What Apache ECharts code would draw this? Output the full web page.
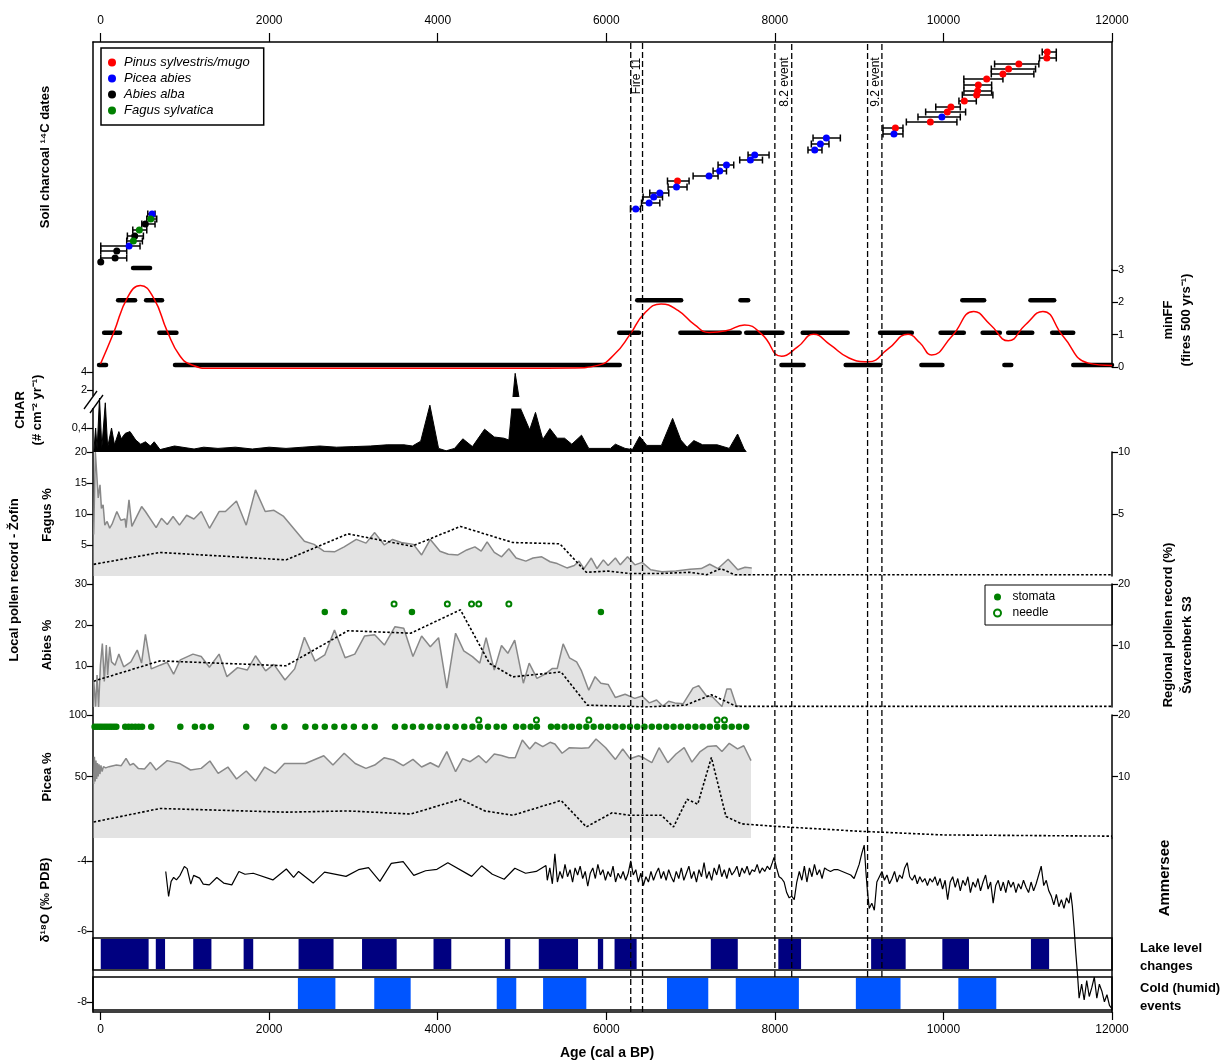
<!DOCTYPE html>
<html><head><meta charset="utf-8">
<script src="https://cdn.jsdelivr.net/npm/echarts@6/dist/echarts.min.js"></script>
<style>html,body{margin:0;padding:0;background:#fff}#chart{width:1222px;height:1063px}</style>
</head><body><div id="chart"></div>
<script>
// ================= DATA =================
const ageTicks = [0, 2000, 4000, 6000, 8000, 10000, 12000];
const taxa = ['Pinus sylvestris/mugo', 'Picea abies', 'Abies alba', 'Fagus sylvatica'];
// soil charcoal 14C dates: [age, errLo, errHi, rank, taxonIndex]
const charcoalDates = [
 [2,null,null,8,2],[172,2,310,12,2],[192,2,310,19,2],[338,2,468,24,1],[389,310,496,29,3],
 [405,318,508,34,2],[460,382,548,40,3],[531,489,646,46,2],[595,548,666,51,3],[611,560,646,56,1],
 [6350,6287,6406,61,1],[6508,6418,6635,67,1],[6563,6437,6667,73,1],[6635,6516,6741,77,1],
 [6833,6733,6958,83,1],[6845,6726,6982,89,0],[7219,7030,7326,94,1],[7346,7267,7426,99,1],
 [7426,7326,7512,105,1],[7710,7583,7853,110,1],[7761,7682,7931,115,1],[8473,8393,8559,120,1],
 [8540,8433,8642,126,1],[8611,8453,8777,132,1],
 [9413,9283,9520,136,1],[9430,9283,9520,142,0],[9845,9560,10160,148,0],[9982,9698,10200,153,1],
 [10046,9789,10263,158,0],[10089,9909,10200,163,0],[10248,10184,10390,169,0],[10394,10224,10587,175,0],
 [10406,10243,10572,179,0],[10414,10243,10572,185,0],[10513,10242,10706,191,0],[10706,10568,11073,196,0],
 [10773,10568,11093,201,0],[10895,10607,11132,206,0],[11227,11140,11339,212,0],[11232,11172,11339,218,0]
];
// minimum fire frequency: [start, end, fires per 500 yr]
const fireSegments = [
 [385,587,3],
 [208,409,2],[540,729,2],[6367,6888,2],[7174,7174,2],[7592,7683,2],[10224,10483,2],[11032,11314,2],
 [42,231,1],[697,900,1],[6153,6389,1],[6670,6670,1],[6879,7583,1],[7660,8091,1],[8330,8864,1],
 [9248,9625,1],[9966,10242,1],[10465,10669,1],[10768,11054,1],[11290,11540,1],
 [-18,65,0],[883,6160,0],[8078,8341,0],[8840,9248,0],[9738,9988,0],[10723,10805,0],[11540,12000,0]
];
const fireCurve = [[0,0.1],[155,1.06],[325,2.18],[473,2.52],[630,2.13],[790,1.11],[940,0.35],[1085,0.06],
 [1300,-0.04],[2000,-0.04],[3000,-0.04],[4000,-0.04],[5000,-0.04],[5600,-0.03],[5900,0.05],[6100,0.4],
 [6280,1.0],[6450,1.65],[6650,1.95],[6850,1.75],[7050,1.3],[7220,1.07],[7420,1.12],[7640,1.3],[7850,1.0],
 [8080,0.33],[8270,0.62],[8460,1.01],[8650,0.7],[8880,0.28],[9110,0.16],[9340,0.55],[9580,1.01],[9720,0.75],
 [9860,0.37],[10100,0.95],[10360,1.72],[10560,1.3],[10770,0.81],[10970,1.3],[11180,1.72],[11420,0.95],
 [11720,0.12],[12000,0.05]];
// CHAR (# cm-2 yr-1)
const charData = [[-80,0],[-59,0.40],[-41,0.05],[-13,0.9],[15,0.07],[56,0.82],[84,0.08],[130,0.4],[165,0.12],
 [217,0.34],[245,0.22],[292,0.31],[349,0.34],[417,0.2],[476,0.13],[532,0.17],[591,0.1],[636,0.17],[706,0.04],
 [877,0.1],[1109,0.05],[1223,0.08],[1393,0.06],[1600,0.08],[1800,0.05],[2000,0.08],[2200,0.06],[2400,0.08],
 [2600,0.1],[2800,0.08],[3000,0.09],[3200,0.1],[3400,0.12],[3600,0.12],[3700,0.1],[3798,0.18],[3907,0.78],
 [4010,0.06],[4100,0.02],[4200,0.06],[4298,0.22],[4412,0.09],[4556,0.38],[4671,0.25],[4785,0.23],[4844,0.2],
 [4919,3.85],[4987,0.71],[5010,0.7],[5091,0.37],[5160,0.66],[5247,0.21],[5331,0.39],[5418,0.23],[5505,0.23],
 [5591,0.13],[5706,0.28],[5792,0.06],[6050,0.06],[6108,0.13],[6223,0.06],[6310,0.04],[6395,0.26],[6481,0.11],
 [6654,0.11],[6787,0.56],[6884,0.2],[6959,0.08],[7039,0.19],[7143,0.12],[7316,0.12],[7459,0.06],[7558,0.3],
 [7632,0.06],[7661,0]];
const charTicks = [0.4, 2, 4];
// Local pollen record (Zofin) and regional record (Svarcenberk S3)
const fagusLocal = [[-82,6.7],[-62,20],[-45,20],[-28,12.6],[-7,14.7],[10,10.9],[30,11.5],[50,8.2],[78,8.8],[108,7.7],
 [140,8.5],[193,10.4],[240,9.0],[290,9.2],[302,7.8],[337,12.3],[371,8.0],[487,11.2],[532,10.4],[659,7.8],[722,9.3],
 [791,8.3],[860,9.6],[936,8.2],[1021,9.8],[1107,9.2],[1194,10.4],[1292,7.7],[1406,10.4],[1481,10.4],[1612,12.1],
 [1728,8.2],[1838,13.9],[1953,10.4],[2057,10.6],[2172,9.6],[2418,5.6],[2533,5.1],[2649,4.0],[2775,3.9],[2890,4.7],
 [3034,5.9],[3149,5.3],[3252,7.0],[3367,5.0],[3464,5.9],[3568,5.4],[3712,5.1],[3809,3.4],[3912,5.9],[4027,4.0],
 [4126,3.5],[4240,3.4],[4344,4.2],[4441,4.7],[4516,4.0],[4586,5.5],[4671,3.8],[4758,3.1],[4844,4.4],[4930,2.9],
 [5045,2.4],[5131,2.9],[5234,3.1],[5333,2.3],[5418,2.0],[5533,1.3],[5620,1.7],[5677,2.4],[5735,1.2],[5822,2.9],
 [5890,1.2],[5965,2.6],[6022,1.7],[6108,2.9],[6166,1.8],[6252,3.1],[6339,1.8],[6425,2.2],[6527,1.0],[6660,0.7],
 [6826,0.8],[6993,1.1],[7126,1.2],[7227,1.9],[7326,1.2],[7446,2.7],[7560,1.0],[7646,1.4],[7726,1.3]];
const fagusRegional = [[-82,0.94],[706,1.9],[2200,1.3],[2935,3.4],[3694,2.4],[4269,4.0],[4890,2.7],[5448,2.6],
 [5763,0.3],[6022,0.4],[6279,0.2],[6635,0.2],[6991,0.3],[7192,0.1],[7358,0.6],[7524,0.1],[12000,0.1]];
const abiesLocal = [[-82,6.6],[-59,0.1],[-42,7.8],[-24,0.0],[-2,10.2],[21,15.5],[44,6.2],[68,15.1],[84,7.8],[108,14.7],
 [130,11.0],[171,10.2],[217,12.9],[274,9.8],[360,11.0],[435,13.9],[486,10.7],[532,17.7],[601,9.3],[706,10.2],
 [791,10.9],[866,8.0],[946,11.5],[1096,12.9],[1194,12.3],[1291,9.7],[1406,12.9],[1499,7.4],[1625,9.6],[1740,9.0],
 [1838,12.5],[1958,8.8],[2056,10.4],[2188,6.6],[2303,9.3],[2418,17.0],[2545,11.2],[2660,12.7],[2775,18.8],[2901,12.0],
 [3016,12.9],[3131,17.3],[3252,17.6],[3367,15.1],[3493,19.6],[3597,19.2],[3706,12.3],[3809,17.3],[3912,14.7],[4010,16.9],
 [4108,4.6],[4212,18.0],[4309,13.7],[4412,12.3],[4499,10.7],[4574,16.9],[4671,9.0],[4757,15.0],[4832,13.1],[4913,16.3],
 [5016,5.8],[5085,10.7],[5177,7.0],[5274,8.0],[5361,9.4],[5418,9.4],[5488,15.4],[5563,12.0],[5648,11.0],[5706,8.8],
 [5792,4.1],[5867,7.4],[5936,5.8],[6022,5.5],[6108,2.3],[6223,3.1],[6338,2.1],[6425,2.7],[6510,1.0],[6597,1.7],
 [6672,0.2],[6740,1.4],[6813,1.0],[6913,0.8],[7028,4.6],[7097,5.2],[7189,2.7],[7258,2.5],[7372,0.1],[7430,4.4],
 [7477,4.4],[7545,0.2],[7583,0.3]];
const abiesRegional = [[-82,4.2],[706,7.5],[2200,6.7],[2935,12.4],[3680,12.0],[4269,15.8],[4614,7.1],[4890,4.9],
 [5464,5.7],[5775,0.3],[6279,0.1],[6470,0.0],[6943,0.3],[7247,2.0],[7545,0.1],[12000,0.1]];
const abiesStomata = [2660, 2890, 3694, 5936];
const abiesNeedles = [3482, 4114, 4401, 4487, 4844];
const piceaLocal = [[-82,44],[-73,66],[-64,46],[-55,63],[-46,48],[-37,61],[-28,50],[-18,60],[-8,52],[4,59],[18,54],
 [34,58],[60,57],[100,58],[187,59.3],[245,58.8],[302,64.8],[349,59.3],[389,60.6],[447,56.6],[521,56.1],[591,61.5],
 [659,55.3],[791,62.9],[936,60.6],[1067,55.3],[1194,56.6],[1297,62.6],[1395,52.6],[1510,57.7],[1613,48],[1728,54.5],
 [1838,46.3],[1947,57.7],[2073,52.6],[2182,60.6],[2430,60.6],[2648,66.9],[2757,59.3],[2890,68.9],[3021,60.6],
 [3148,56.6],[3252,59.3],[3367,65.3],[3476,63.4],[3591,58.8],[3706,63.9],[3809,57.7],[3912,61.2],[4010,57.7],
 [4108,70.2],[4212,53.9],[4297,64.5],[4384,62],[4487,66.9],[4574,61.2],[4671,68.3],[4757,67],[4844,65.3],[4919,65.3],
 [5004,79.7],[5091,72.4],[5160,77.8],[5246,74.3],[5333,77.8],[5390,76.4],[5476,68.9],[5563,73.4],[5706,72.9],
 [5792,73.4],[5878,80.5],[5993,73.4],[6108,63.9],[6195,72.4],[6281,64.5],[6384,66.9],[6453,64.8],[6540,61.2],
 [6626,73.4],[6730,61.2],[6827,68.3],[6924,73.4],[7016,61.7],[7114,70.3],[7200,74.3],[7305,75],[7372,70.3],
 [7459,77],[7557,72.4],[7631,75],[7717,62.9]];
const piceaRegional = [[-82,2.6],[706,4.8],[2200,4.2],[2935,4.4],[3680,3.9],[4269,6.3],[4560,4.4],[4890,3.7],
 [5464,6.1],[5763,1.8],[6069,4.1],[6279,3.7],[6654,3.7],[6797,1.8],[6959,6.3],[7085,5.5],[7247,13.1],[7420,3.5],
 [7604,2.3],[8000,1.9],[9000,1.1],[10000,0.5],[12000,0.3]];
const piceaStomata = [-71,-42,-13,15,44,73,102,130,159,187,292,332,371,412,452,492,601,946,1119,1211,1309,1728,
 2056,2182,2430,2545,2660,2775,2890,3005,3136,3252,3493,3607,3706,3809,3912,4010,4108,4212,4315,4412,4499,4596,
 4699,4786,4930,5016,5103,5177,5344,5418,5505,5591,5678,5763,5850,5936,6022,6108,6195,6281,6367,6453,6540,6626,
 6712,6798,6884,6970,7057,7143,7229,7315,7402,7488,7574,7660];
const piceaNeedles = [4487, 5171, 5793, 7315, 7402];
// Ammersee d18O (permil PDB)
const d18O = [[773,-4.30],[807,-5.01],[837,-4.58],[867,-4.47],[900,-4.54],[943,-4.41],[994,-4.16],[1027,-4.22],
 [1070,-4.66],[1104,-4.41],[1175,-4.49],[1218,-4.66],[1290,-4.68],[1379,-4.47],[1460,-4.63],[1557,-4.68],
 [1641,-4.30],[1713,-4.38],[1811,-4.35],[2044,-4.54],[2204,-4.23],[2290,-4.47],[2349,-4.30],[2522,-4.63],
 [2657,-4.32],[2912,-4.44],[3060,-4.25],[3179,-4.19],[3314,-4.58],[3449,-4.07],[3590,-4.02],[3716,-4.41],
 [3856,-4.28],[3991,-4.24],[4120,-4.05],[4403,-4.44],[4521,-4.14],[4648,-4.38],[4788,-4.52],[4915,-4.21],
 [5042,-4.35],[5169,-4.30],[5284,-4.13],
 [5300,-4.55],[5330,-4.2],[5360,-4.65],[5390,-3.8],[5420,-4.6],[5450,-4.3],[5480,-4.5],[5510,-4.1],[5540,-4.45],
 [5570,-4.25],[5600,-4.6],[5630,-4.2],[5660,-4.4],[5690,-4.15],[5720,-4.5],[5750,-4.3],[5780,-4.72],[5810,-4.35],
 [5840,-4.2],[5870,-4.5],[5900,-4.1],[5930,-4.4],[5960,-4.25],[5990,-4.55],[6020,-4.3],[6050,-4.45],[6080,-4.15],
 [6110,-4.6],[6140,-4.35],[6170,-4.5],[6200,-4.3],[6230,-4.55],[6260,-4.35],[6290,-4.0],[6320,-4.4],[6350,-4.25],
 [6380,-4.6],[6410,-4.35],[6440,-4.7],[6470,-4.45],[6500,-4.6],[6530,-4.3],[6560,-4.55],[6590,-4.35],[6620,-4.2],
 [6650,-4.5],[6680,-4.3],[6710,-4.55],[6740,-4.25],[6770,-4.45],[6800,-4.6],[6830,-4.3],[6860,-4.5],[6890,-4.2],
 [6920,-4.55],[6950,-4.35],[6980,-4.15],[7010,-4.5],[7040,-4.3],[7070,-4.6],[7100,-4.25],[7130,-4.45],[7160,-4.05],
 [7190,-4.5],[7220,-4.3],[7250,-4.55],[7280,-4.2],[7310,-4.4],[7340,-4.1],[7370,-4.45],[7400,-4.25],[7430,-4.5],
 [7460,-4.2],[7490,-4.4],[7520,-4.3],[7550,-4.15],[7580,-4.45],[7610,-4.2],[7640,-4.35],[7670,-4.15],[7700,-4.4],
 [7730,-4.25],[7760,-4.3],[7790,-4.1],[7820,-4.35],[7850,-4.2],[7880,-4.3],[7910,-4.15],[7940,-4.25],[7970,-4.05],
 [7990,-3.9],[8020,-4.2],[8050,-4.45],[8080,-4.5],[8110,-4.6],[8140,-4.9],[8170,-5.05],[8200,-5.0],[8230,-5.1],
 [8260,-4.6],[8290,-4.3],[8320,-4.55],[8350,-4.15],[8380,-4.6],[8410,-4.2],[8440,-4.45],[8470,-4.1],[8500,-4.4],
 [8530,-4.25],[8560,-4.5],[8590,-4.2],[8620,-4.25],[8660,-4.3],[8700,-4.25],[8750,-4.25],[8800,-4.3],[8850,-4.35],
 [8900,-4.4],[8940,-4.5],[8970,-4.3],[9000,-4.1],[9030,-3.8],[9060,-3.55],[9080,-4.3],[9100,-4.9],[9120,-5.35],
 [9150,-5.2],[9180,-5.4],[9210,-4.6],[9240,-4.45],[9270,-4.3],[9300,-4.55],[9330,-4.4],[9360,-4.65],[9390,-4.5],
 [9420,-4.3],[9450,-4.6],[9480,-4.4],[9510,-4.5],[9540,-4.2],[9570,-4.05],[9600,-4.45],[9630,-4.55],[9660,-4.4],
 [9690,-4.65],[9720,-4.45],[9750,-4.6],[9780,-4.5],[9810,-4.7],[9840,-4.5],[9870,-4.6],[9900,-4.45],[9930,-4.7],
 [9960,-4.5],[9990,-4.8],[10020,-4.55],[10050,-5.1],[10080,-4.6],[10110,-4.45],[10140,-4.75],[10170,-4.5],
 [10200,-4.85],[10230,-4.55],[10260,-4.7],[10290,-4.45],[10320,-4.9],[10350,-4.6],[10380,-4.75],[10410,-4.5],
 [10440,-4.85],[10470,-4.6],[10500,-4.4],[10530,-4.8],[10560,-4.6],[10590,-5.2],[10620,-4.7],[10650,-4.55],
 [10680,-4.85],[10710,-4.6],[10740,-4.9],[10770,-4.55],[10800,-4.75],[10830,-4.6],[10860,-4.9],[10890,-4.65],
 [10920,-4.8],[10950,-4.55],[10980,-4.75],[11010,-4.9],[11040,-4.6],[11070,-4.85],[11100,-4.65],[11130,-4.4],
 [11160,-4.15],[11190,-4.7],[11220,-4.55],[11250,-4.85],[11280,-5.0],[11310,-5.25],[11340,-4.95],[11370,-5.3],
 [11400,-5.1],[11430,-5.35],[11460,-5.05],[11490,-5.2],[11510,-4.9],[11530,-5.3],[11550,-5.9],[11570,-6.6],
 [11590,-7.2],[11610,-7.9],[11640,-7.5],[11670,-7.95],[11700,-7.4],[11730,-7.85],[11760,-7.6],[11790,-7.3],
 [11820,-7.9],[11850,-7.5],[11880,-7.7],[11910,-8.0],[11940,-7.8],[11970,-8.1],[12000,-8.2]];
const d18OTicks = [-8, -6, -4];
// high lake levels and cold (humid) events: [start, end]
const lakeLevelHigh = [[2,570],[655,765],[1099,1315],[1697,1811],[2349,2764],[3102,3513],[3950,4161],[4797,4861],
 [5199,5665],[5900,5963],[6098,6360],[7240,7560],[8041,8311],[9142,9552],[9987,10303],[11038,11254]];
const coldEvents = [[2341,2786],[3247,3679],[4700,4932],[5250,5763],[6720,7210],[7536,8285],[8961,9491],[10177,10627]];
// event lines
const eventLinesFull = [6290, 6430];
const eventLinesShort = [8000, 8200, 9100, 9270];
const eventLabelAge = [6355, 8117, 9197];
const eventLabelText = ['Fire 11', '8.2 event', '9.2 event'];

// ================= CHART =================
const FONT = "'Liberation Sans', Arial, sans-serif";
const XMIN = -90, XMAX = 12000, LEFT = 93, RIGHT = 110;
const chart = echarts.init(document.getElementById('chart'));

// CHAR broken scale: lower part linear to 1.0, upper part from 2 to 4
function charDisp(v){ return v <= 1 ? v*60 : (v < 2 ? 60 + (v-1)*2 : 62 + (v-2)*9); }

const gridDefs = [[42,228],[270,97],[372,80],[452,124],[584,123],[715,123],[838,174],[938,32],[977,33],[42,970],[42,935]];
const grid = gridDefs.map(g => ({left:LEFT, right:RIGHT, top:g[0], height:g[1]}));
[7,8].forEach(i => Object.assign(grid[i], {show:true, borderColor:'#000', borderWidth:1.5, backgroundColor:'rgba(0,0,0,0)'}));

const lineStyleBlack = {color:'#000', width:1.5};
const xAxis = gridDefs.map((g,i) => ({type:'value', gridIndex:i, min:XMIN, max:XMAX, show:false, splitLine:{show:false}}));
Object.assign(xAxis[0], {show:true, position:'top',
  axisLine:{show:true, onZero:false, lineStyle:lineStyleBlack},
  axisTick:{show:true, customValues:ageTicks, length:9, lineStyle:{color:'#000', width:1.2}},
  axisLabel:{customValues:ageTicks, color:'#000', fontSize:12, fontFamily:FONT, margin:15, formatter:v => String(v)}});
Object.assign(xAxis[9], {show:true, position:'bottom',
  axisLine:{show:true, onZero:false, lineStyle:lineStyleBlack},
  axisTick:{show:true, customValues:ageTicks, length:8, lineStyle:{color:'#000', width:1.2}},
  axisLabel:{customValues:ageTicks, color:'#000', fontSize:12, fontFamily:FONT, margin:12, formatter:v => String(v)}});

function yax(gi, pos, min, max, ticks, lineShow, fmt){
  const a = {type:'value', gridIndex:gi, position:pos, min:min, max:max, splitLine:{show:false},
    axisLine:{show:!!lineShow, onZero:false, lineStyle:lineStyleBlack}};
  if (ticks){
    a.axisTick = {show:true, customValues:ticks, length:6, lineStyle:{color:'#000', width:1.2}};
    a.axisLabel = {show:true, customValues:ticks, color:'#000', fontSize:11, fontFamily:FONT, margin:6};
    if (fmt) a.axisLabel.formatter = fmt;
  } else {
    a.axisTick = {show:false}; a.axisLabel = {show:false};
  }
  return a;
}
const yAxis = [
  Object.assign(yax(0,'left',0,228,null,false),{show:false}),          //0 charcoal
  yax(0,'right',0,1,null,true),                                       //1 right border
  yax(1,'right',0,3,[0,1,2,3],true),                                  //2 minFF
  yax(2,'left',0,80,charTicks.map(charDisp),false,
      v => ({24:'0,4',62:'2',80:'4'})[Math.round(v)] || ''),          //3 CHAR
  yax(3,'left',0,20,[5,10,15,20],false),                              //4 Fagus
  yax(3,'right',0,10,[5,10],true),                                    //5 Fagus regional
  yax(4,'left',0,30,[10,20,30],false),                                //6 Abies
  yax(4,'right',0,20,[10,20],true),                                   //7 Abies regional
  yax(5,'left',0,100,[50,100],false),                                 //8 Picea
  yax(5,'right',0,20,[10,20],true),                                   //9 Picea regional
  yax(6,'left',-8.29,-3.35,d18OTicks,false),                          //10 d18O
  yax(6,'right',0,1,null,true),                                       //11 right border
  Object.assign(yax(7,'left',0,1,null,false),{show:false}),           //12 lake
  Object.assign(yax(8,'left',0,1,null,false),{show:false}),           //13 cold
  yax(9,'left',0,1,null,true),                                        //14 overlay left border
  Object.assign(yax(10,'left',0,1,null,false),{show:false})           //15 overlay short
];

const taxaColor = ['#ff0000','#0000ff','#000000','#008000'];
const series = [];
// error bars
series.push({type:'custom', xAxisIndex:0, yAxisIndex:0, z:3, silent:true,
  data: charcoalDates.filter(d => d[1] !== null).map(d => [d[1], d[2], d[3]]),
  encode:{x:[0,1], y:2},
  renderItem:(p, api) => {
    const a = api.coord([api.value(0), api.value(2)]), b = api.coord([api.value(1), api.value(2)]);
    const st = {stroke:'#000', lineWidth:1.5};
    return {type:'group', children:[
      {type:'line', shape:{x1:a[0],y1:a[1],x2:b[0],y2:b[1]}, style:st},
      {type:'line', shape:{x1:a[0],y1:a[1]-3.5,x2:a[0],y2:a[1]+3.5}, style:st},
      {type:'line', shape:{x1:b[0],y1:b[1]-3.5,x2:b[0],y2:b[1]+3.5}, style:st}]};
  }});
taxa.forEach((t,k) => series.push({type:'scatter', name:t, xAxisIndex:0, yAxisIndex:0, z:4,
  symbol:'circle', symbolSize:7, itemStyle:{color:taxaColor[k], opacity:1},
  data: charcoalDates.filter(d => d[4] === k).map(d => [d[0], d[3]])}));
// minFF
series.push({type:'custom', xAxisIndex:1, yAxisIndex:2, z:3, silent:true, data:fireSegments, encode:{x:[0,1], y:2},
  renderItem:(p, api) => {
    const a = api.coord([api.value(0), api.value(2)]), b = api.coord([api.value(1), api.value(2)]);
    return {type:'line', shape:{x1:a[0],y1:a[1]-2,x2:b[0],y2:b[1]-2}, style:{stroke:'#000', lineWidth:4.5, lineCap:'round'}};
  }});
series.push({type:'line', xAxisIndex:1, yAxisIndex:2, z:4, data:fireCurve, smooth:0.5, showSymbol:false, clip:false,
  lineStyle:{color:'#ff0000', width:1.5}});
// CHAR
series.push({type:'line', xAxisIndex:2, yAxisIndex:3, z:3, data:charData.map(d => [d[0], charDisp(d[1])]),
  showSymbol:false, lineStyle:{color:'#000', width:1}, areaStyle:{color:'#000', opacity:1}});
series.push({type:'custom', xAxisIndex:2, yAxisIndex:3, z:5, silent:true, data:[[4860, 4995, 43.5, 55]],
  renderItem:(p, api) => {
    const a = api.coord([api.value(0), api.value(3)]), b = api.coord([api.value(1), api.value(2)]);
    return {type:'rect', shape:{x:a[0], y:a[1], width:b[0]-a[0], height:b[1]-a[1]}, style:{fill:'#fff'}};
  }});
// pollen panels
function local(xi, yi, data){ return {type:'line', xAxisIndex:xi, yAxisIndex:yi, z:3, data:data, showSymbol:false,
  lineStyle:{color:'#888', width:1.5}, areaStyle:{color:'#e3e3e3', opacity:1}}; }
function regional(xi, yi, data){ return {type:'line', xAxisIndex:xi, yAxisIndex:yi, z:4, data:data, showSymbol:false,
  lineStyle:{color:'#000', width:1.6, type:[2.5,2]}}; }
series.push(local(3,4,fagusLocal), regional(3,5,fagusRegional));
series.push(local(4,6,abiesLocal), regional(4,7,abiesRegional));
series.push(local(5,8,piceaLocal), regional(5,9,piceaRegional));
function marks(name, xi, yi, ages, row){
  const empty = name === 'needle';
  return {type:'scatter', name:name, xAxisIndex:xi, yAxisIndex:yi, z:5, symbol: empty ? 'emptyCircle' : 'circle',
    symbolSize: empty ? 5 : 6.5,
    itemStyle: empty ? {color:'#008000', borderColor:'#008000', borderWidth:1.4, opacity:1} : {color:'#008000', opacity:1},
    data: ages.map(a => [a, row])};
}
series.push(marks('stomata',4,6,abiesStomata,23.2), marks('needle',4,6,abiesNeedles,25.1));
series.push(marks('stomata',5,8,piceaStomata,90.5), marks('needle',5,8,piceaNeedles,96));
// d18O
series.push({type:'line', xAxisIndex:6, yAxisIndex:10, z:6, data:d18O, showSymbol:false, clip:false,
  lineStyle:{color:'#000', width:1.2}});
function bars(xi, yi, data, color){
  return {type:'custom', xAxisIndex:xi, yAxisIndex:yi, z:2, silent:true, data:data, encode:{x:[0,1]},
    renderItem:(p, api) => {
      const a = api.coord([api.value(0), 1]), b = api.coord([api.value(1), 0]);
      return {type:'rect', shape:{x:a[0], y:a[1]+1, width:b[0]-a[0], height:b[1]-a[1]-2}, style:{fill:color}};
    }};
}
series.push(bars(7,12,lakeLevelHigh,'#000080'), bars(8,13,coldEvents,'#0055ff'));
// event lines
function vlines(xi, yi, ages){
  return {type:'custom', xAxisIndex:xi, yAxisIndex:yi, z:10, silent:true, data:ages.map(a => [a]), encode:{x:0},
    renderItem:(p, api) => {
      const a = api.coord([api.value(0), 0]), b = api.coord([api.value(0), 1]);
      return {type:'line', shape:{x1:a[0],y1:a[1],x2:b[0],y2:b[1]}, style:{stroke:'#000', lineWidth:1.3, lineDash:[6,3]}};
    }};
}
series.push(vlines(9,14,eventLinesFull), vlines(10,15,eventLinesShort));
series.push({type:'custom', xAxisIndex:9, yAxisIndex:14, z:11, silent:true, data:eventLabelAge.map((a,i) => [a, i]),
  encode:{x:0},
  renderItem:(p, api) => {
    const i = api.value(1), c = api.coord([api.value(0), 1]);
    return {type:'text', x:c[0], y:c[1] + (i === 0 ? 34 : 40), rotation:Math.PI/2,
      style:{text:eventLabelText[i], fill:'#000', font:'12px ' + FONT, align:'center', verticalAlign:'middle',
        textAlign:'center', textVerticalAlign:'middle'}};
  }});

function vtext(id, x, y, text, font){
  return {type:'text', id:id, x:x, y:y, rotation:Math.PI/2, z:100,
    style:{text:text, fill:'#000', font:font, align:'center', verticalAlign:'middle', textAlign:'center', textVerticalAlign:'middle'}};
}
function htext(id, x, y, text, font, align){
  return {type:'text', id:id, x:x, y:y, z:100,
    style:{text:text, fill:'#000', font:font, align:align||'left', verticalAlign:'middle', textAlign:align||'left', textVerticalAlign:'middle'}};
}
const B13 = 'bold 13px ' + FONT, B14 = 'bold 14px ' + FONT;
const graphic = [
  vtext('t1', 45, 157, 'Soil charcoal \u00b9\u2074C dates', B13),
  vtext('t2', 20, 410, 'CHAR', B13),
  vtext('t3', 37, 410, '(# cm\u207b\u00b2 yr\u207b\u00b9)', B13),
  vtext('t4', 47, 515, 'Fagus %', B13),
  vtext('t5', 47, 645, 'Abies %', B13),
  vtext('t6', 47, 777, 'Picea %', B13),
  vtext('t7', 14, 580, 'Local pollen record - \u017dof\u00edn', B13),
  vtext('t8', 45, 900, '\u03b4\u00b9\u2078O (\u2030 PDB)', B13),
  vtext('t9', 1168, 320, 'minFF', B13),
  vtext('t10', 1186, 320, '(fires 500 yrs\u207b\u00b9)', B13),
  vtext('t11', 1168, 625, 'Regional pollen record (%)', B13),
  vtext('t12', 1187, 645, '\u0160varcenberk S3', B13),
  vtext('t13', 1165, 878, 'Ammersee', 'bold 15px ' + FONT),
  htext('t14', 1140, 948, 'Lake level', B13), htext('t15', 1140, 966, 'changes', B13),
  htext('t16', 1140, 988, 'Cold (humid)', B13), htext('t17', 1140, 1006, 'events', B13),
  htext('t18', 607, 1053, 'Age (cal a BP)', B14, 'center')
];

chart.setOption({
  animation:false,
  backgroundColor:'#fff',
  textStyle:{fontFamily:FONT},
  grid:grid, xAxis:xAxis, yAxis:yAxis, series:series, graphic:graphic,
  legend:[
    {data:taxa, orient:'vertical', left:101, top:48, itemWidth:14, itemHeight:8, itemGap:3,
     padding:[8,14,8,7], borderColor:'#000', borderWidth:1.5, selectedMode:false,
     textStyle:{fontStyle:'italic', fontSize:13, color:'#000', fontFamily:FONT}},
    {data:[{name:'stomata', icon:'circle'}, {name:'needle', icon:'emptyCircle'}], orient:'vertical', left:985, top:585,
     itemWidth:20, itemHeight:7, itemGap:4, padding:[6,57,6,8], borderColor:'#000', borderWidth:1, selectedMode:false,
     textStyle:{fontSize:12, color:'#000', fontFamily:FONT}}
  ]
});

// axis break marks on the CHAR axis
const pLo = chart.convertToPixel({gridIndex:2}, [XMIN, 41]);
const pHi = chart.convertToPixel({gridIndex:2}, [XMIN, 59]);
chart.setOption({graphic:[
  {type:'rect', id:'brk0', z:101, shape:{x:pLo[0]-2, y:pHi[1]+3, width:4, height:pLo[1]-pHi[1]-6}, style:{fill:'#fff'}},
  {type:'line', id:'brk1', z:102, shape:{x1:pLo[0]-9, y1:pLo[1]-2, x2:pLo[0]+4, y2:pHi[1]-2}, style:{stroke:'#000', lineWidth:1.3}},
  {type:'line', id:'brk2', z:102, shape:{x1:pLo[0]-3, y1:pLo[1]+2, x2:pLo[0]+10, y2:pHi[1]+2}, style:{stroke:'#000', lineWidth:1.3}}
]});
</script>
</body></html>
